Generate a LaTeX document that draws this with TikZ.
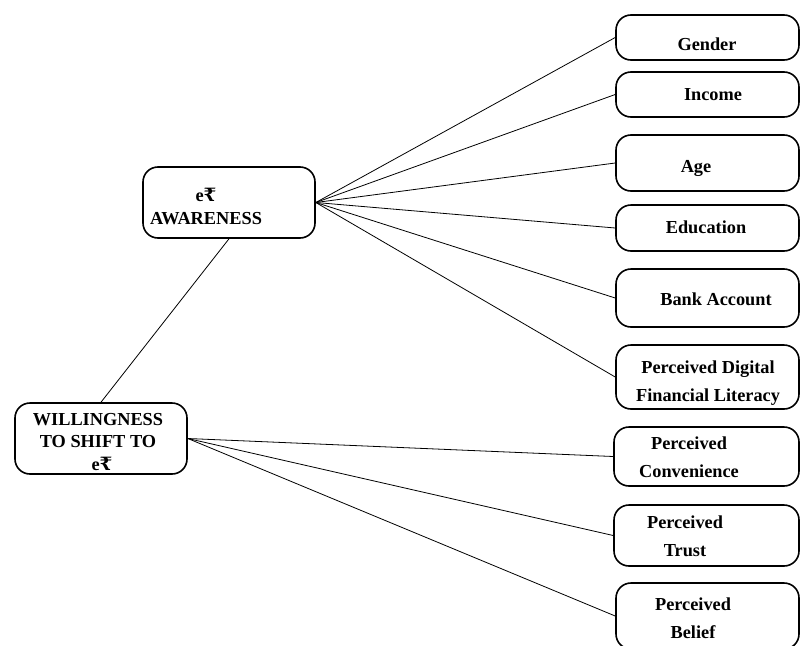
\documentclass[tikz,border=0pt]{standalone}
\usepackage{fontspec}
\setmainfont{Liberation Serif}
\newfontfamily\rupeefont{DejaVu Serif}
\newcommand{\erupee}{e{\rupeefont\bfseries ₹}}

\begin{document}
\begin{tikzpicture}[x=1pt,y=-1pt,inner sep=0pt,
  box/.style={draw=black,line width=1.6pt,rounded corners=15pt},
  link/.style={line width=0.8pt},
  txt/.style={anchor=base,align=center,font=\fontsize{18.3}{28}\selectfont\bfseries},
  ctxt/.style={txt,font=\fontsize{18.3}{22.5}\selectfont\bfseries}]
\useasboundingbox (0,0) rectangle (800,645);
%Node Coordinates
\node at (229,202.5) [box,minimum width=172pt,minimum height=71pt] (Aware) {};
\node at (101,438.5) [box,minimum width=172pt,minimum height=71pt] (Will) {};
\node at (707.5,37.5) [box,minimum width=183pt,minimum height=45pt] (Gender) {};
\node at (707.5,94.5) [box,minimum width=183pt,minimum height=45pt] (Income) {};
\node at (707.5,163) [box,minimum width=183pt,minimum height=56pt] (Age) {};
\node at (707.5,228) [box,minimum width=183pt,minimum height=46pt] (Educ) {};
\node at (707.5,298) [box,minimum width=183pt,minimum height=58pt] (Bank) {};
\node at (707.5,377) [box,minimum width=183pt,minimum height=64pt] (Liter) {};
\node at (706.5,456.5) [box,minimum width=185pt,minimum height=59pt] (Conv) {};
\node at (706.5,535.5) [box,minimum width=185pt,minimum height=61pt] (Trust) {};
\node at (707.5,616) [box,minimum width=183pt,minimum height=66pt] (Belief) {};
%Node Labels
\node [ctxt] at (206,224) {\erupee\\AWARENESS};
\node [ctxt] at (98,470) {WILLINGNESS\\TO SHIFT TO\\\hspace*{8pt}\erupee};
\node [txt] at (707,50) {Gender};
\node [txt] at (713,100) {Income};
\node [txt] at (696,172) {Age};
\node [txt] at (706,233) {Education};
\node [txt] at (716,305) {Bank Account};
\node [txt] at (708,401) {Perceived Digital\\Financial Literacy};
\node [txt] at (689,477) {Perceived\\Convenience};
\node [txt] at (685,556) {Perceived\\Trust};
\node [txt] at (693,638) {Perceived\\Belief};
%connections
\draw [link] (Will.north) -- (Aware.south);
\draw [link] (Aware.east) -- (Gender.west);
\draw [link] (Aware.east) -- (Income.west);
\draw [link] (Aware.east) -- (Age.west);
\draw [link] (Aware.east) -- (Educ.west);
\draw [link] (Aware.east) -- (Bank.west);
\draw [link] (Aware.east) -- (Liter.west);
\draw [link] (Will.east) -- (Conv.west);
\draw [link] (Will.east) -- (Trust.west);
\draw [link] (Will.east) -- (Belief.west);
\end{tikzpicture}
\end{document}
